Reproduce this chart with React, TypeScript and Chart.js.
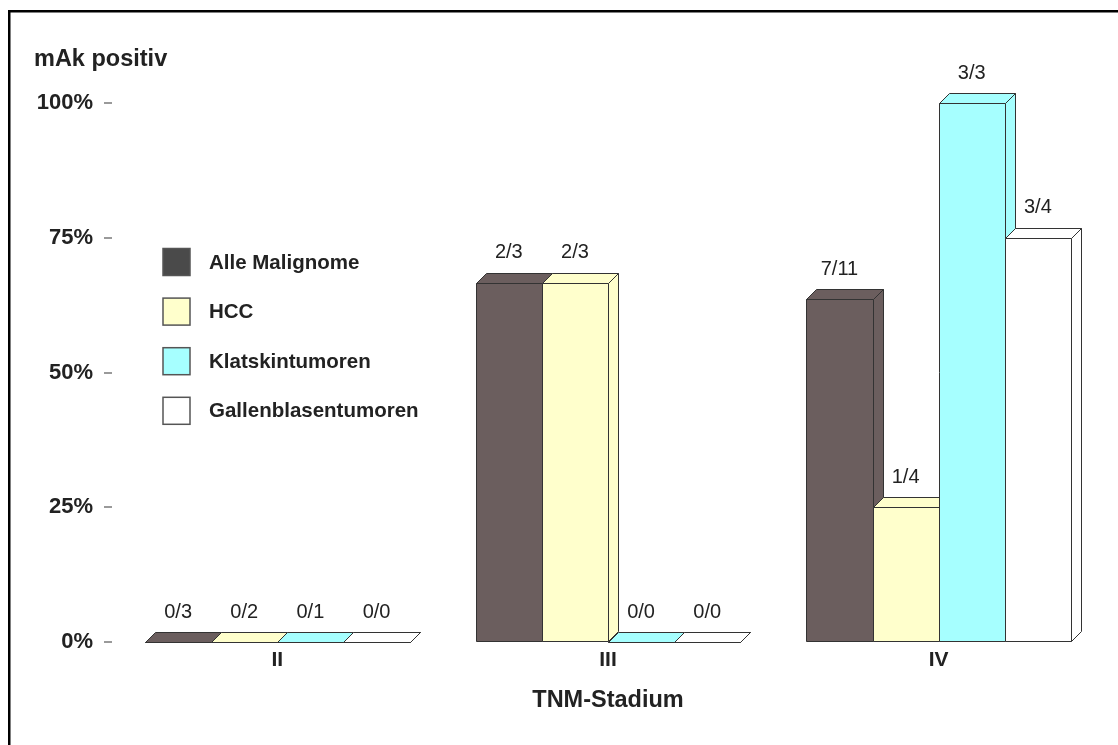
import React, { useEffect, useRef } from 'react';
import { Chart, registerables } from 'chart.js';

Chart.register(...registerables);

// TNM stages on the x axis
const stages = ['II', 'III', 'IV'];

// Series names
const seriesNames = ['Alle Malignome', 'HCC', 'Klatskintumoren', 'Gallenblasentumoren'];

// Positive / total counts per stage for each series
const alleMalignomePositive = [0, 2, 7];
const alleMalignomeTotal = [3, 3, 11];
const hccPositive = [0, 2, 1];
const hccTotal = [2, 3, 4];
const klatskinPositive = [0, 0, 3];
const klatskinTotal = [1, 0, 3];
const gallenblasenPositive = [0, 0, 3];
const gallenblasenTotal = [0, 0, 4];

const yTickLabels = ['0%', '25%', '50%', '75%', '100%'];

// Styling
const barColors = ['#6b5e5e', '#ffffcc', '#a6ffff', '#ffffff'];
const legendColors = ['#4a4a4a', '#ffffcc', '#a6ffff', '#ffffff'];
const FONT = "'Liberation Sans', Arial, Helvetica, sans-serif";
const TEXT = '#222222';
const DEPTH = 10;

const percent = (p: number[], t: number[]) => p.map((v, i) => (t[i] > 0 ? (v / t[i]) * 100 : 0));
const fractions = (p: number[], t: number[]) => p.map((v, i) => `${v}/${t[i]}`);

const seriesPositive = [alleMalignomePositive, hccPositive, klatskinPositive, gallenblasenPositive];
const seriesTotal = [alleMalignomeTotal, hccTotal, klatskinTotal, gallenblasenTotal];

// Draws each bar as an extruded box (front, top and right side), category by category
const bars3d = {
  id: 'bars3d',
  beforeDatasetsDraw(chart: any) {
    const ctx = chart.ctx as CanvasRenderingContext2D;
    const n = chart.data.labels.length;
    ctx.save();
    ctx.lineWidth = 1;
    ctx.strokeStyle = '#333333';
    ctx.lineJoin = 'miter';
    for (let i = 0; i < n; i++) {
      chart.data.datasets.forEach((ds: any, di: number) => {
        const el = chart.getDatasetMeta(di).data[i];
        if (!el) return;
        const { x, y, base, width } = el.getProps(['x', 'y', 'base', 'width'], true);
        const l = Math.round(x - width / 2) + 0.5;
        const r = Math.round(x + width / 2) + 0.5;
        const t = Math.round(y) + 0.5;
        const b = Math.round(base) + 0.5;
        ctx.fillStyle = ds.backgroundColor;
        // front face
        ctx.beginPath();
        ctx.rect(l, t, r - l, b - t);
        ctx.fill();
        ctx.stroke();
        // top face
        ctx.beginPath();
        ctx.moveTo(l, t);
        ctx.lineTo(l + DEPTH, t - DEPTH);
        ctx.lineTo(r + DEPTH, t - DEPTH);
        ctx.lineTo(r, t);
        ctx.closePath();
        ctx.fill();
        ctx.stroke();
        // side face
        ctx.beginPath();
        ctx.moveTo(r, t);
        ctx.lineTo(r + DEPTH, t - DEPTH);
        ctx.lineTo(r + DEPTH, b - DEPTH);
        ctx.lineTo(r, b);
        ctx.closePath();
        ctx.fill();
        ctx.stroke();
      });
    }
    ctx.restore();
    return false;
  },
};

// Frame, fraction labels, axis caption and legend
const decorations = {
  id: 'decorations',
  afterDraw(chart: any) {
    const ctx = chart.ctx as CanvasRenderingContext2D;
    ctx.save();

    // frame (top and left edges)
    ctx.fillStyle = '#000000';
    ctx.fillRect(8, 10, 1110, 2.5);
    ctx.fillRect(8, 10, 2.5, 735);

    // fraction labels above bars
    ctx.font = `20px ${FONT}`;
    ctx.fillStyle = TEXT;
    ctx.textAlign = 'center';
    ctx.textBaseline = 'middle';
    chart.data.datasets.forEach((ds: any, di: number) => {
      chart.getDatasetMeta(di).data.forEach((el: any, i: number) => {
        const { x, y } = el.getProps(['x', 'y'], true);
        ctx.fillText(ds.fractionLabels[i], x, y - DEPTH - 20);
      });
    });

    // value axis caption
    ctx.font = `bold 23.5px ${FONT}`;
    ctx.textAlign = 'left';
    ctx.fillText('mAk positiv', 34, 60);

    // legend
    ctx.font = `bold 20.5px ${FONT}`;
    chart.data.datasets.forEach((ds: any, di: number) => {
      const cy = 262 + di * 49.6;
      ctx.fillStyle = legendColors[di];
      ctx.fillRect(163, cy - 13.5, 27, 27);
      ctx.strokeStyle = '#555555';
      ctx.lineWidth = 1.5;
      ctx.strokeRect(163, cy - 13.5, 27, 27);
      ctx.fillStyle = TEXT;
      ctx.fillText(ds.label, 209, cy + 1);
    });

    ctx.restore();
  },
};

export default function App() {
  const canvasRef = useRef<HTMLCanvasElement | null>(null);

  useEffect(() => {
    if (!canvasRef.current) return;
    const chart = new Chart(canvasRef.current, {
      type: 'bar',
      data: {
        labels: stages,
        datasets: seriesNames.map((name, i) => ({
          label: name,
          data: percent(seriesPositive[i], seriesTotal[i]),
          fractionLabels: fractions(seriesPositive[i], seriesTotal[i]),
          backgroundColor: barColors[i],
          borderColor: '#333333',
          borderWidth: 1,
          categoryPercentage: 0.8,
          barPercentage: 1.0,
        })) as any,
      },
      options: {
        animation: false,
        responsive: false,
        devicePixelRatio: 1,
        events: [],
        layout: { padding: { top: 103, right: 14, bottom: 0, left: 0 } },
        plugins: {
          legend: { display: false },
          tooltip: { enabled: false },
          title: { display: false },
        },
        scales: {
          x: {
            afterFit: (s: any) => {
              s.height = 103;
            },
            border: { display: false },
            grid: { display: false, drawTicks: false, tickLength: 0 },
            ticks: {
              padding: 6,
              color: TEXT,
              font: { family: FONT, size: 21, weight: 'bold' },
            },
            title: {
              display: true,
              text: 'TNM-Stadium',
              color: TEXT,
              font: { family: FONT, size: 23.5, weight: 'bold' },
              padding: { top: 0, bottom: 30 },
            },
          },
          y: {
            min: 0,
            max: 100,
            afterFit: (s: any) => {
              s.width = 112;
            },
            border: { display: false },
            grid: {
              drawOnChartArea: false,
              drawTicks: true,
              tickLength: 8,
              color: '#9a9a9a',
              lineWidth: 2,
            },
            ticks: {
              stepSize: 25,
              padding: 11,
              color: TEXT,
              font: { family: FONT, size: 22, weight: 'bold' },
              callback: (_v: any, i: number) => yTickLabels[i],
            },
          },
        },
      } as any,
      plugins: [bars3d, decorations],
    });
    return () => chart.destroy();
  }, []);

  return (
    <div style={{ position: 'fixed', left: 0, top: 0, width: 1118, height: 745, background: '#ffffff' }}>
      <canvas ref={canvasRef} width={1118} height={745} style={{ display: 'block' }} />
    </div>
  );
}
